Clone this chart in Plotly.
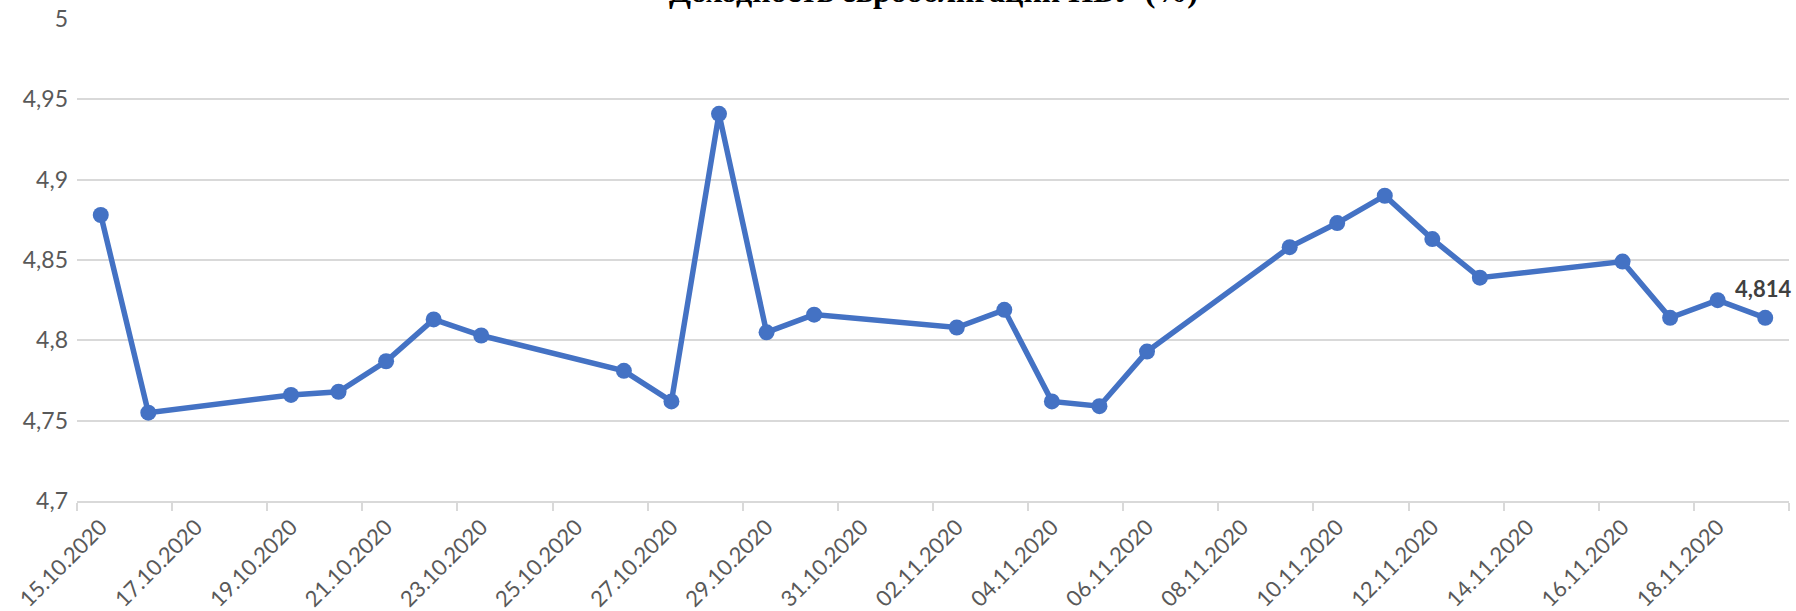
import plotly.graph_objects as go

title_text = "Доходность еврооблигации НБУ (%)"

dates = ["2020-10-15", "2020-10-16", "2020-10-19", "2020-10-20", "2020-10-21",
         "2020-10-22", "2020-10-23", "2020-10-26", "2020-10-27", "2020-10-28",
         "2020-10-29", "2020-10-30", "2020-11-02", "2020-11-03", "2020-11-04",
         "2020-11-05", "2020-11-06", "2020-11-09", "2020-11-10", "2020-11-11",
         "2020-11-12", "2020-11-13", "2020-11-16", "2020-11-17", "2020-11-18",
         "2020-11-19"]
yields = [4.878, 4.755, 4.766, 4.768, 4.787, 4.813, 4.803, 4.781, 4.762, 4.941,
          4.805, 4.816, 4.808, 4.819, 4.762, 4.759, 4.793, 4.858, 4.873, 4.890,
          4.863, 4.839, 4.849, 4.814, 4.825, 4.814]

y_ticks = [4.7, 4.75, 4.8, 4.85, 4.9, 4.95, 5.0]
y_tick_labels = ["4,7", "4,75", "4,8", "4,85", "4,9", "4,95", "5"]

x_range = ["2020-10-14 12:00", "2020-11-19 12:00"]
TWO_DAYS = 2 * 86400000

FONT = "Lato"
GREY = "#595959"
GRID = "#d9d9d9"
BLUE = "#4472C4"

fig = go.Figure()
fig.add_trace(go.Scatter(
    x=dates, y=yields, mode="lines+markers",
    line=dict(color=BLUE, width=5.5),
    marker=dict(color=BLUE, size=16),
    hoverinfo="x+y", showlegend=False,
))
# carrier for the date-label axis (draws nothing)
fig.add_trace(go.Scatter(
    x=dates, y=yields, mode="none", xaxis="x2",
    hoverinfo="skip", showlegend=False,
))

last_label = f"{yields[-1]:.3f}".replace(".", ",")
fig.add_annotation(
    x=dates[-1], y=yields[-1], xref="x", yref="y",
    text=f"<b>{last_label}</b>", showarrow=False,
    yanchor="bottom", yshift=14, xshift=-2,
    font=dict(family=FONT, size=22, color="#404040"),
)
fig.add_annotation(
    x=0.5, y=1.059, xref="paper", yref="paper",
    text=f"<b>{title_text}</b>", showarrow=False,
    yanchor="middle",
    font=dict(family="Liberation Serif", size=32, color="#000000"),
)

fig.update_layout(
    width=1796, height=611,
    margin=dict(l=77, r=7, t=19, b=110, autoexpand=False),
    paper_bgcolor="white", plot_bgcolor="white",
    font=dict(family=FONT, size=22, color=GREY),
    xaxis=dict(
        type="date", range=x_range, automargin=False,
        tick0=x_range[0], dtick=TWO_DAYS,
        ticks="outside", ticklen=8, tickwidth=1.5, tickcolor=GRID,
        showticklabels=False, showgrid=False,
        showline=True, linecolor=GRID, linewidth=1.5,
        zeroline=False,
    ),
    xaxis2=dict(
        type="date", range=x_range, overlaying="x", side="bottom",
        anchor="y", automargin=False,
        tick0=dates[0], dtick=TWO_DAYS, tickformat="%d.%m.%Y",
        tickangle=-45, ticks="", ticklen=0, showgrid=False, showline=False,
        zeroline=False, ticklabelstandoff=8,
        tickfont=dict(family=FONT, size=22, color=GREY),
    ),
    yaxis=dict(
        range=[4.7, 5.0], tickvals=y_ticks, ticktext=y_tick_labels,
        automargin=False,
        showgrid=True, gridcolor=GRID, gridwidth=1.5,
        zeroline=False, showline=False, ticks="", ticklen=0,
        ticklabelstandoff=8,
        tickfont=dict(family=FONT, size=23, color=GREY),
    ),
)

fig.write_html(
    "out.html",
    config={"displayModeBar": False},
    post_script="document.body.style.margin='0';document.body.style.padding='0';",
)
